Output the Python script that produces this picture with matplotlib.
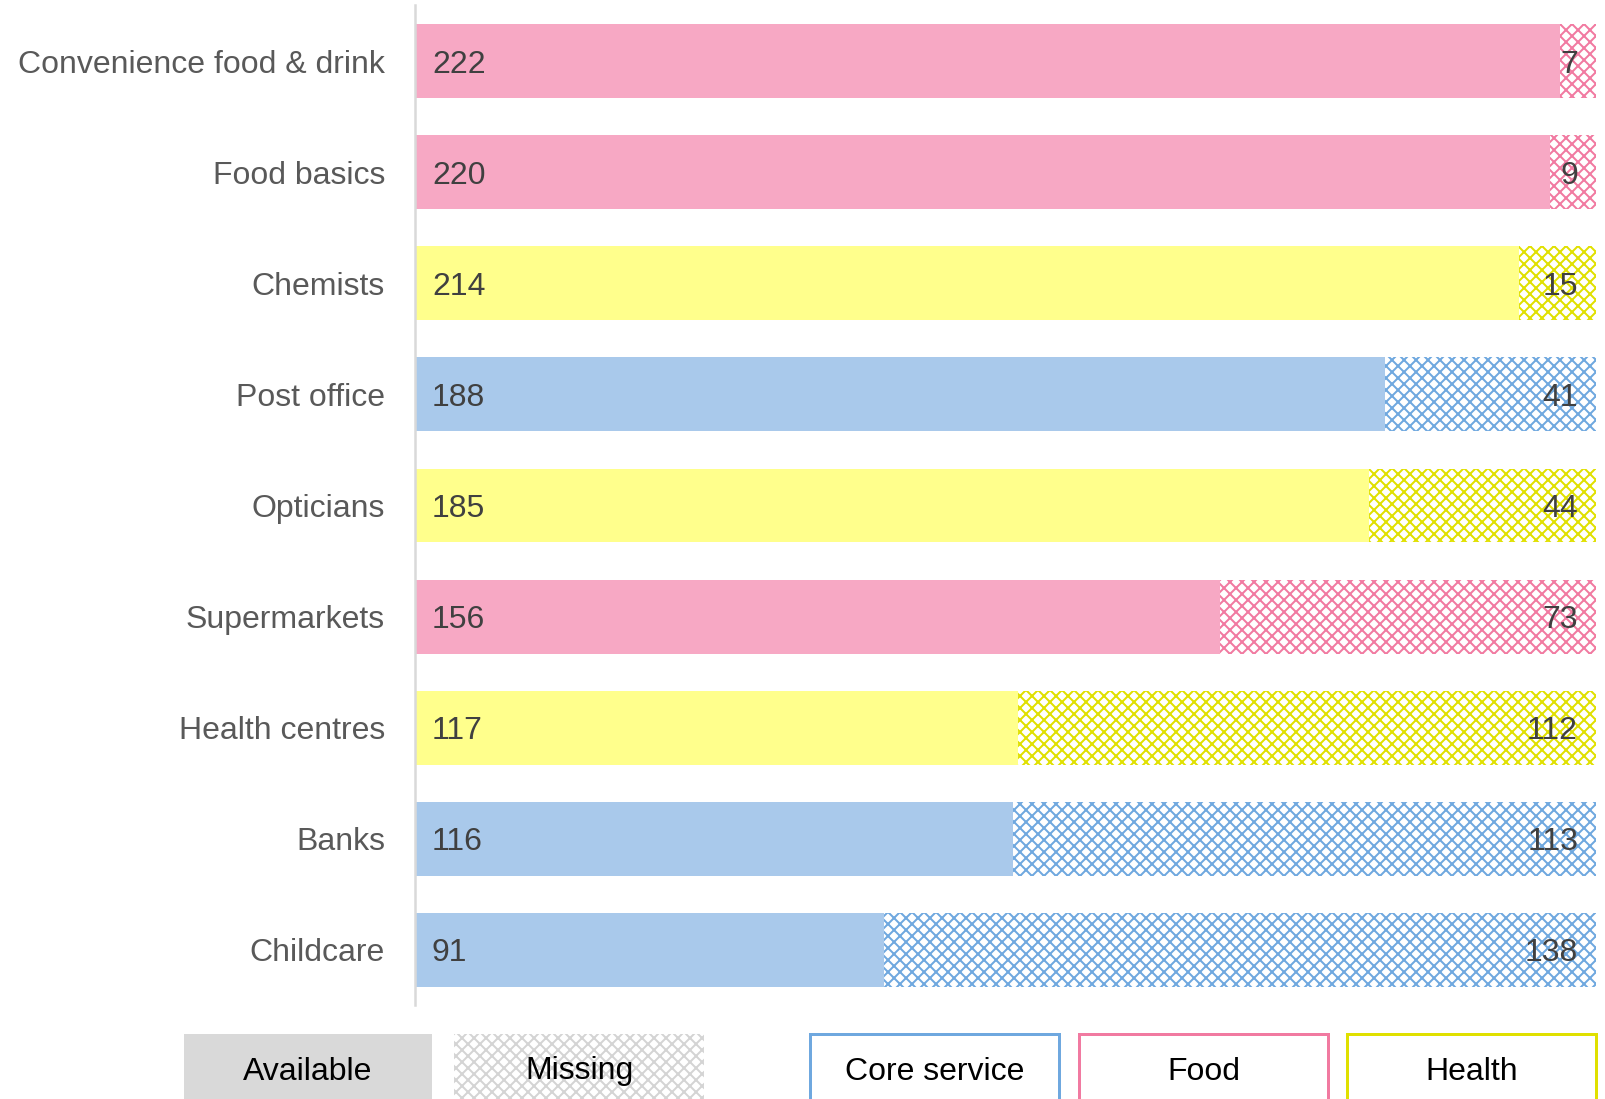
import matplotlib
matplotlib.use('Agg')
import matplotlib.pyplot as plt
from matplotlib.patches import Rectangle

# dpi 72 so that 1 pt == 1 px
DPI = 72
plt.rcParams['font.family'] = ['Liberation Sans', 'DejaVu Sans']
plt.rcParams['hatch.linewidth'] = 2.0

# data, top to bottom
services = ['Convenience food & drink', 'Food basics', 'Chemists', 'Post office',
            'Opticians', 'Supermarkets', 'Health centres', 'Banks', 'Childcare']
available = [222, 220, 214, 188, 185, 156, 117, 116, 91]
missing = [7, 9, 15, 41, 44, 73, 112, 113, 138]
groups = ['Food', 'Food', 'Health', 'Core service', 'Health', 'Food',
          'Health', 'Core service', 'Core service']

fill_col = {'Core service': '#A9C9EB', 'Food': '#F7A8C4', 'Health': '#FFFF8C'}
hatch_col = {'Core service': '#6FA8DF', 'Food': '#F17AA1', 'Health': '#E0E000'}
legend_groups = ['Core service', 'Food', 'Health']

W, H = 1605, 1099
fig = plt.figure(figsize=(W / DPI, H / DPI), dpi=DPI)
ax = fig.add_axes([415 / W, 1 - 1005.5 / H, (1596 - 415) / W, 1000 / H])

for i, (name, a, m, g) in enumerate(zip(services, available, missing, groups)):
    ax.barh(i, a, height=0.665, color=fill_col[g], linewidth=0)
    ax.barh(i, m, left=a, height=0.665, color='white', edgecolor=hatch_col[g],
            hatch='xx', linewidth=0)
    ax.annotate(str(a), xy=(0, i), xytext=(17, 0), textcoords='offset points',
                va='center_baseline', ha='left', fontsize=32, color='#404040')
    ax.annotate(str(m), xy=(a + m, i), xytext=(-18, 0), textcoords='offset points',
                va='center_baseline', ha='right', fontsize=32, color='#404040')

ax.set_xlim(0, available[0] + missing[0])
ax.set_ylim(len(services) - 0.5, -0.5)
ax.set_yticks(range(len(services)))
ax.set_yticklabels(services, fontsize=32, color='#595959')
ax.tick_params(axis='y', length=0, pad=30)
ax.set_xticks([])
for s in ['top', 'right', 'bottom']:
    ax.spines[s].set_visible(False)
ax.spines['left'].set_color('#D9D9D9')
ax.spines['left'].set_linewidth(2.5)

# legend boxes drawn in figure pixels
def fig_box(x0, x1, **kw):
    r = Rectangle((x0 / W, 1 - 1140 / H), (x1 - x0) / W, (1140 - 1034) / H,
                  transform=fig.transFigure, **kw)
    fig.patches.append(r)

def fig_label(x0, x1, text):
    fig.text((x0 + x1) / 2 / W, 1 - 1068 / H, text, ha='center', va='center_baseline',
             fontsize=32, color='black')

fig_box(184, 432, facecolor='#D9D9D9', linewidth=0)
fig_label(184, 432, 'Available')
fig_box(454, 704, facecolor='white', edgecolor='#D4D4D4', hatch='xx', linewidth=0)
fig_label(454, 704, 'Missing')

legend_x = [(810, 1059), (1079, 1328), (1347, 1596)]
for g, (x0, x1) in zip(legend_groups, legend_x):
    fig_box(x0, x1, facecolor='white', edgecolor=hatch_col[g], linewidth=3)
    fig_label(x0, x1, g)

fig.savefig('out.png', dpi=DPI)
